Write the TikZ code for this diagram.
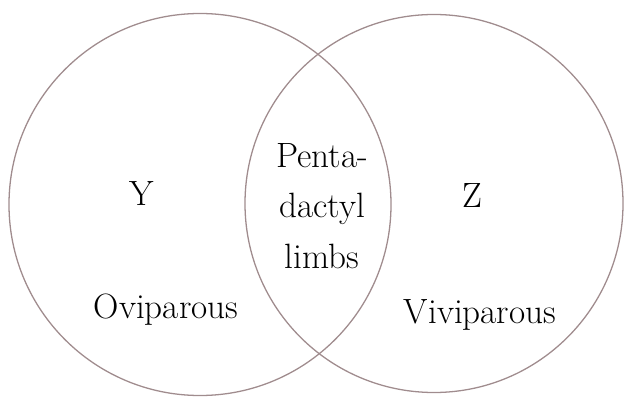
\documentclass[tikz,border=0pt]{standalone}
\definecolor{ringgrey}{RGB}{160,140,142}

\begin{document}
\begin{tikzpicture}[x=0.03cm, y=-0.03cm, thick]
  \tikzstyle{setring} = [circle, draw=ringgrey, line width=1.1pt, inner sep=0pt]
  \tikzstyle{settext} = [align=center, font=\fontsize{30}{43}\selectfont]

  \useasboundingbox (0,0) rectangle (624,403);

  \node[setring, minimum size=11.46cm] (yset) at (200,204.5) {};
  \node[setring, minimum size=11.34cm] (zset) at (434,203.5) {};

  \node[settext] (ylabel) at (142,193) {Y};
  \node[settext] (zlabel) at (472,195) {Z};
  \node[settext] (ovi) at (166,310) {Oviparous};
  \node[settext] (vivi) at (480,315) {Viviparous};
  \node[settext] (common) at (322,206) {Penta-\\dactyl\\limbs};
\end{tikzpicture}
\end{document}
